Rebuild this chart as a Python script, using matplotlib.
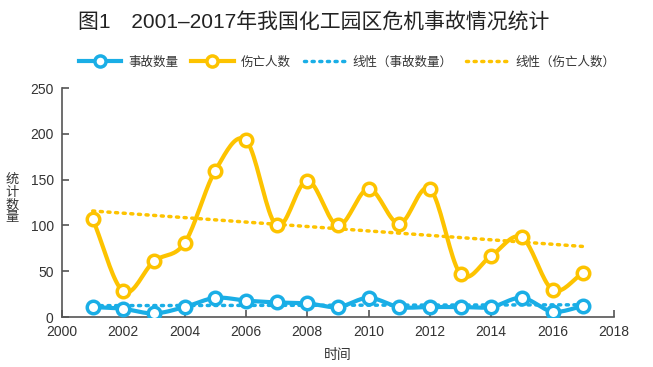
import numpy as np
import matplotlib.pyplot as plt

plt.rcParams['font.family'] = ['Noto Sans CJK SC', 'DejaVu Sans']

years = np.arange(2001, 2018)
accidents = [11, 9, 4, 11, 21, 18, 16, 15, 11, 21, 11, 11, 11, 11, 21, 6, 12]
casualties = [107, 28, 61, 81, 160, 193, 100, 149, 100, 140, 102, 140, 47, 67, 87, 30, 48]

BLUE = '#1aaee6'
YELLOW = '#fdc300'
LATIN = ['Liberation Sans', 'Noto Sans CJK SC']


def smooth(x, y, n=20):
    # catmull-rom curve through the points, like excel's smoothed line
    x = np.asarray(x, float)
    y = np.asarray(y, float)
    px = np.concatenate([[2 * x[0] - x[1]], x, [2 * x[-1] - x[-2]]])
    py = np.concatenate([[2 * y[0] - y[1]], y, [2 * y[-1] - y[-2]]])
    xs, ys = [], []
    t = np.linspace(0, 1, n, endpoint=False)
    for i in range(1, len(px) - 2):
        for p, out in ((px, xs), (py, ys)):
            p0, p1, p2, p3 = p[i - 1], p[i], p[i + 1], p[i + 2]
            out.extend(0.5 * ((2 * p1) + (-p0 + p2) * t
                              + (2 * p0 - 5 * p1 + 4 * p2 - p3) * t ** 2
                              + (-p0 + 3 * p1 - 3 * p2 + p3) * t ** 3))
    xs.append(x[-1])
    ys.append(y[-1])
    return np.array(xs), np.array(ys)


fig = plt.figure(figsize=(6.53, 3.67), dpi=100)
ax = fig.add_axes([0.095, 0.136, 0.845, 0.624])

for vals, col in ((accidents, BLUE), (casualties, YELLOW)):
    sx, sy = smooth(years, vals)
    ax.plot(sx, sy, color=col, lw=3, solid_capstyle='round', zorder=3)
    ax.plot(years, vals, 'o', ms=9, mfc='white', mec=col, mew=2.5, zorder=4)

for vals, col in ((accidents, BLUE), (casualties, YELLOW)):
    k, b = np.polyfit(years, vals, 1)
    ax.plot(years, k * years + b, color=col, lw=2.5, ls=(0, (0.6, 1.6)),
            dash_capstyle='round', zorder=2)

# legend proxies
h = [
    plt.Line2D([], [], color=BLUE, lw=3, marker='o', ms=8, mfc='white', mec=BLUE, mew=2.5),
    plt.Line2D([], [], color=YELLOW, lw=3, marker='o', ms=8, mfc='white', mec=YELLOW, mew=2.5),
    plt.Line2D([], [], color=BLUE, lw=2.5, ls=(0, (0.6, 1.6)), dash_capstyle='round'),
    plt.Line2D([], [], color=YELLOW, lw=2.5, ls=(0, (0.6, 1.6)), dash_capstyle='round'),
]
labels = ['事故数量', '伤亡人数', '线性（事故数量）', '线性（伤亡人数）']
fig.legend(h, labels, loc='center left', bbox_to_anchor=(0.103, 0.831), ncol=4, frameon=False,
           fontsize=9, handlelength=3.4, columnspacing=1.05, handletextpad=0.55,
           labelcolor='#333333')

fig.text(0.119, 0.937, '图1　2001–2017年我国化工园区危机事故情况统计', fontsize=15,
         color='#222222', va='center', family=LATIN)

ax.set_xlim(2000, 2018)
ax.set_ylim(0, 250)
ax.set_xticks(range(2000, 2019, 2))
ax.set_yticks(range(0, 251, 50))
ax.tick_params(direction='in', length=5, width=1.2, color='#555555', labelsize=10,
               labelcolor='#333333', pad=6)
for lab in ax.get_xticklabels() + ax.get_yticklabels():
    lab.set_family(LATIN)
for s in ('top', 'right'):
    ax.spines[s].set_visible(False)
for s in ('left', 'bottom'):
    ax.spines[s].set_color('#555555')
    ax.spines[s].set_linewidth(1.2)

ax.set_xlabel('时间', fontsize=10, color='#333333', labelpad=6)
fig.text(0.018, 0.458, '统\n计\n数\n量', fontsize=9.5, color='#333333', va='center',
         ha='center', linespacing=0.95)

fig.savefig('out.png', dpi=100)
